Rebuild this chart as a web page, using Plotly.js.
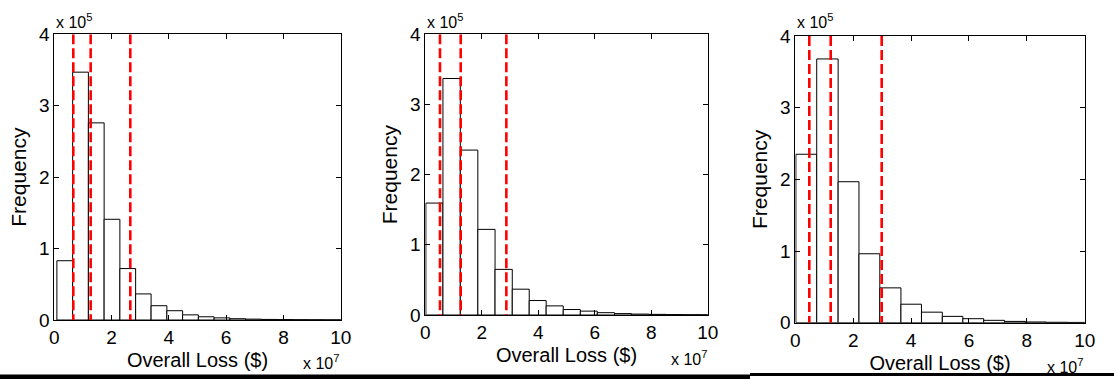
<!DOCTYPE html>
<html>
<head>
<meta charset="utf-8">
<script src="https://cdn.plot.ly/plotly-3.0.1.min.js"></script>
<style>
  html, body { margin: 0; padding: 0; background: #ffffff; }
  #chart { width: 1114px; height: 379px; }
</style>
</head>
<body>
<div id="chart"></div>
<script>
// Histogram bin left edges (x 10^7 $) and bin counts (x 10^5) for the three scenarios
const edgesA = [0.09, 0.64, 1.19, 1.74, 2.29, 2.84, 3.38, 3.93, 4.48, 5.03, 5.58, 6.13, 6.68, 7.23, 7.78, 8.33, 8.87, 9.42, 9.97, 10.52];
const countsA = [0.83, 3.47, 2.76, 1.41, 0.72, 0.365, 0.20, 0.13, 0.072, 0.045, 0.03, 0.018, 0.012, 0.008, 0.006, 0.004, 0.003, 0.002, 0.0015];

const edgesB = [0.02, 0.625, 1.24, 1.86, 2.47, 3.08, 3.68, 4.28, 4.885, 5.49, 6.09, 6.70, 7.30, 7.91, 8.52, 9.12, 9.73, 10.34];
const countsB = [1.595, 3.37, 2.35, 1.22, 0.65, 0.368, 0.206, 0.13, 0.078, 0.055, 0.033, 0.02, 0.013, 0.009, 0.006, 0.004, 0.003];

const edgesC = [0.02, 0.74, 1.48, 2.20, 2.92, 3.65, 4.36, 5.08, 5.79, 6.51, 7.23, 7.95, 8.67, 9.39, 10.11];
const countsC = [2.35, 3.68, 1.967, 0.962, 0.486, 0.258, 0.147, 0.088, 0.056, 0.033, 0.018, 0.01, 0.006, 0.004];

// Reference loss levels (x 10^7 $) marked with dashed lines
const markersA = [0.663, 1.27, 2.654];
const markersB = [0.52, 1.254, 2.87];
const markersC = [0.484, 1.223, 2.985];

const xTicks = [0, 2, 4, 6, 8, 10];
const yTicks = [0, 1, 2, 3, 4];
const xLabel = 'Overall Loss ($)';
const yLabel = 'Frequency';

const W = 1114, H = 379;
const FONT = "Liberation Sans, Arial, sans-serif";

// Plot-area boxes in pixels: [left, right, top, bottom]
const boxes = [
  [54.3, 340.7, 34.3, 320.0],
  [425.3, 707.7, 34.3, 315.0],
  [795.3, 1084.7, 36.0, 322.7]
];

function px2x(p) { return p / W; }
function px2y(p) { return 1 - p / H; }

function barTrace(edges, counts, k) {
  const n = counts.length;
  const x = edges.slice(0, n);
  const w = x.map((e, i) => edges[i + 1] - e);
  return {
    type: 'bar', x: x, y: counts, width: w, offset: 0,
    xaxis: k === 0 ? 'x' : 'x' + (k + 1),
    yaxis: k === 0 ? 'y' : 'y' + (k + 1),
    marker: { color: '#ffffff', line: { color: '#000000', width: 1 } },
    hoverinfo: 'x+y', showlegend: false
  };
}

function markerTrace(vals, k) {
  const x = [], y = [];
  vals.forEach(v => { x.push(v, v, null); y.push(yTicks[yTicks.length - 1], 0, null); });
  return {
    type: 'scatter', mode: 'lines', x: x, y: y,
    xaxis: k === 0 ? 'x' : 'x' + (k + 1),
    yaxis: k === 0 ? 'y' : 'y' + (k + 1),
    line: { color: '#ff0000', width: 2.6, dash: '10px,4px' },
    hoverinfo: 'skip', showlegend: false
  };
}

const data = [
  barTrace(edgesA, countsA, 0), markerTrace(markersA, 0),
  barTrace(edgesB, countsB, 1), markerTrace(markersB, 1),
  barTrace(edgesC, countsC, 2), markerTrace(markersC, 2)
];

function axisCommon() {
  return {
    showline: true, mirror: 'ticks', linecolor: '#000000', linewidth: 1,
    ticks: 'inside', ticklen: 5, tickwidth: 1, tickcolor: '#000000',
    showgrid: false, zeroline: false, fixedrange: true, automargin: false,
    tickfont: { family: FONT, size: 19, color: '#000000' }
  };
}

const layout = {
  width: W, height: H,
  margin: { l: 0, r: 0, t: 0, b: 0 },
  paper_bgcolor: '#ffffff', plot_bgcolor: '#ffffff',
  showlegend: false, bargap: 0,
  annotations: [], shapes: []
};

const topExp = [[54, 20.5], [425, 20.5], [795, 20.5]];
const botExp = [[301, 362], [669, 358], [1045, 366]];

boxes.forEach((b, k) => {
  const sx = k === 0 ? '' : String(k + 1);
  layout['xaxis' + sx] = Object.assign(axisCommon(), {
    domain: [px2x(b[0]), px2x(b[1])], range: [0, 10],
    tickvals: xTicks, anchor: 'y' + sx,
    title: { text: xLabel, standoff: 6, font: { family: FONT, size: 20, color: '#000000' } }
  });
  layout['yaxis' + sx] = Object.assign(axisCommon(), {
    domain: [px2y(b[3]), px2y(b[2])], range: [0, 4],
    tickvals: yTicks, anchor: 'x' + sx,
    title: { text: yLabel, standoff: 6, font: { family: FONT, size: 21, color: '#000000' } }
  });

  layout.annotations.push({
    xref: 'paper', yref: 'paper', x: px2x(topExp[k][0]), y: px2y(topExp[k][1]),
    xanchor: 'left', yanchor: 'middle', showarrow: false,
    text: 'x 10<sup>5</sup>', font: { family: FONT, size: 16, color: '#000000' }
  });
  layout.annotations.push({
    xref: 'paper', yref: 'paper', x: px2x(botExp[k][0]), y: px2y(botExp[k][1]),
    xanchor: 'left', yanchor: 'middle', showarrow: false,
    text: 'x 10<sup>7</sup>', font: { family: FONT, size: 16, color: '#000000' }
  });
});

// Rule along the bottom edge of the figure
layout.shapes.push({
  type: 'rect', xref: 'paper', yref: 'paper', layer: 'above',
  x0: 0, x1: px2x(750), y0: px2y(379), y1: px2y(374.5),
  fillcolor: '#000000', line: { width: 0 }
});
layout.shapes.push({
  type: 'rect', xref: 'paper', yref: 'paper', layer: 'above',
  x0: px2x(750), x1: 1, y0: px2y(376), y1: px2y(373),
  fillcolor: '#000000', line: { width: 0 }
});

Plotly.newPlot('chart', data, layout, { displayModeBar: false, staticPlot: true });
</script>
</body>
</html>
